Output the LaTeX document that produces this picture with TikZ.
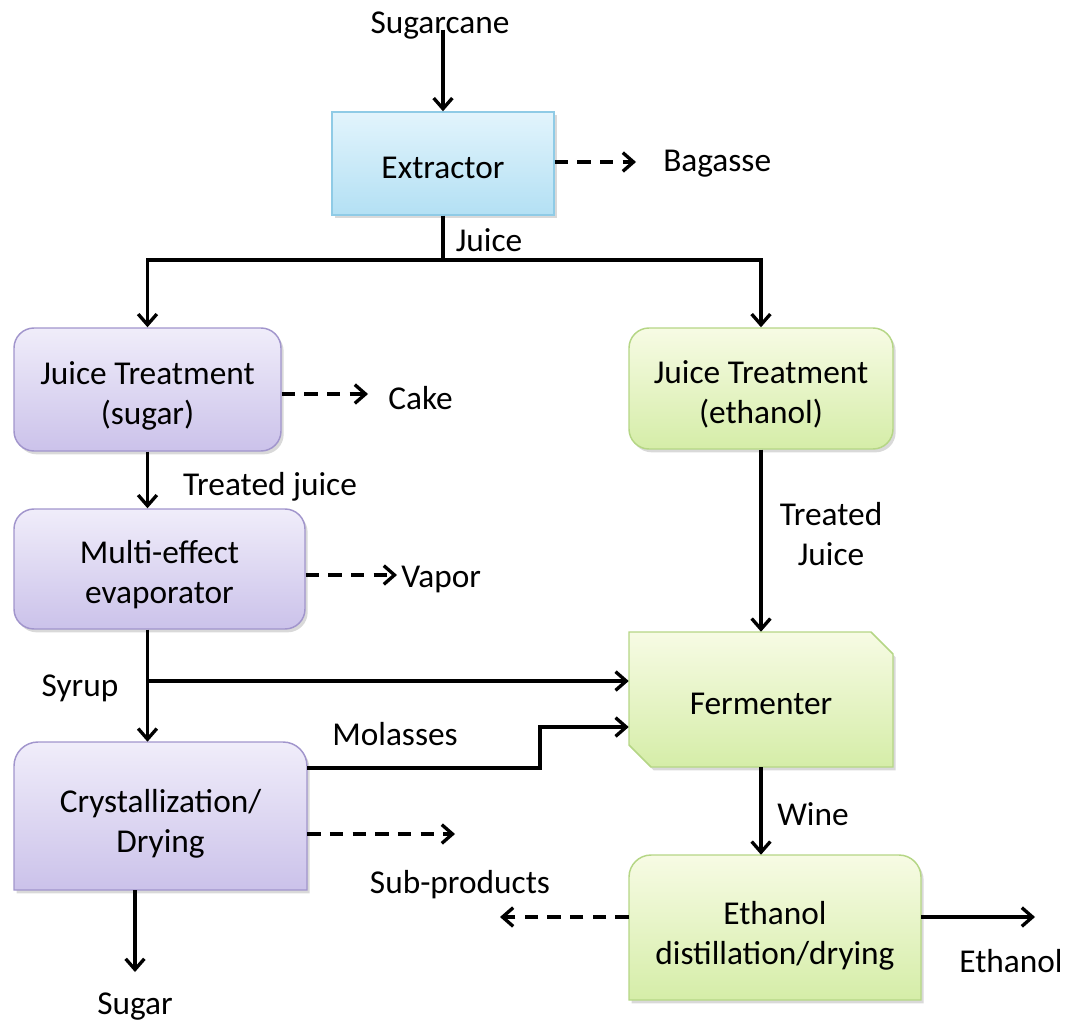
\documentclass[tikz,border=0pt]{standalone}
\usepackage{fontspec}
\setmainfont{Carlito}
\usetikzlibrary{arrows.meta,shadows,calc}
\definecolor{blueT}{HTML}{E2F4FC}
\definecolor{blueB}{HTML}{B3E0F4}
\definecolor{blueD}{HTML}{8FCBE6}
\definecolor{purpT}{HTML}{F0EDFA}
\definecolor{purpB}{HTML}{CBC2EA}
\definecolor{purpD}{HTML}{A195CC}
\definecolor{grnT}{HTML}{F7FBE4}
\definecolor{grnB}{HTML}{D5EDA8}
\definecolor{grnD}{HTML}{B5D685}
\newcommand{\bigfont}{\fontsize{25}{30}\selectfont}
\begin{document}
\begin{tikzpicture}[x=0.75pt,y=-0.75pt,
  flow/.style={line width=2.5pt,-{Straight Barb[length=8pt,width=14pt]}},
  dflow/.style={flow,dash pattern=on 10pt off 7pt},
  plain/.style={line width=2.5pt},
  shad/.style={drop shadow={opacity=0.3,shadow xshift=2pt,shadow yshift=-2.5pt}},
  btxt/.style={inner sep=0pt,align=center,font=\bigfont,yshift=-4.5pt},
  btxts/.style={btxt,yshift=1.5pt},
  box/.style={draw,line width=1.1pt,shad,inner sep=0pt},
  bluebox/.style={box,draw=blueD,top color=blueT,bottom color=blueB},
  purpbox/.style={box,rounded corners=15pt,draw=purpD,top color=purpT,bottom color=purpB},
  grnbox/.style={box,rounded corners=15pt,draw=grnD,top color=grnT,bottom color=grnB},
  purpshape/.style={draw=purpD,line width=1.1pt,shad,top color=purpT,bottom color=purpB},
  grnshape/.style={draw=grnD,line width=1.1pt,shad,top color=grnT,bottom color=grnB},
  lbl/.style={inner sep=0pt,align=center,font=\bigfont,yshift=-2pt},
  shapetext/.style={inner sep=0pt}
]
\useasboundingbox (0,0) rectangle (1066,1024);

% custom shaped boxes
\path[purpshape] (14,890) -- (14,766) .. controls (14,752.7) and (24.7,742) .. (38,742)
  -- (283,742) .. controls (296.3,742) and (307,752.7) .. (307,766) -- (307,890) -- cycle;
\path[grnshape] (629,632) -- (871,632) -- (893,654) -- (893,767) -- (651,767) -- (629,745) -- cycle;
\path[grnshape] (629,1000) -- (629,877) .. controls (629,864.9) and (638.9,855) .. (651,855)
  -- (899,855) .. controls (911.1,855) and (921,864.9) .. (921,877) -- (921,1000) -- cycle;

% nodes
\node[lbl] (cane) at (440,23) {Sugarcane};
\node[bluebox,minimum width=166.5pt,minimum height=77.25pt,
  label={[btxts]center:Extractor}] (ext) at (443,163.5) {};
\node[lbl,anchor=west] (bag) at (663,161) {Bagasse};
\node[purpbox,minimum width=200.25pt,minimum height=92.25pt,
  label={[btxt]center:{Juice Treatment\\(sugar)}}] (jts) at (147.5,389.5) {};
\node[lbl,anchor=west] (cake) at (388,395) {Cake};
\node[purpbox,minimum width=218.25pt,minimum height=90pt,
  label={[btxt]center:{Multi-effect\\evaporator}}] (mee) at (159.5,569) {};
\node[lbl,anchor=west] (vap) at (401,577) {Vapor};
\node[shapetext,minimum width=219.75pt,minimum height=111pt,
  label={[btxt,yshift=-1pt]center:{Crystallization/\\Drying}}] (cry) at (160.5,816) {};
\node[grnbox,minimum width=198pt,minimum height=90.75pt,
  label={[btxt]center:{Juice Treatment\\(ethanol)}}] (jte) at (761,388.5) {};
\node[shapetext,minimum width=198pt,minimum height=101.25pt,
  label={[btxts]center:Fermenter}] (fer) at (761,699.5) {};
\node[shapetext,minimum width=219pt,minimum height=108.75pt,
  label={[btxt,yshift=-1.5pt]center:{Ethanol\\distillation/drying}}] (eth) at (775,927.5) {};

% labels
\node[lbl] (ljuice) at (489,237) {Juice};
\node[lbl] (ltj) at (270,484) {Treated juice};
\node[lbl] (lTJ) at (831,531) {Treated\\Juice};
\node[lbl] (lsyr) at (80,686) {Syrup};
\node[lbl] (lmol) at (395,731) {Molasses};
\node[lbl] (lsub) at (460,882) {Sub-products};
\node[lbl] (lsug) at (135,1004) {Sugar};
\node[lbl] (lwine) at (813,811) {Wine};
\node[lbl] (leth) at (1011,958) {Ethanol};

% coordinates
\coordinate (jn) at (443,260);
\coordinate (bagE) at (636,162);
\coordinate (cakeE) at (368,394);
\coordinate (vapE) at (397,575);
\coordinate (syr) at (147.5,681);
\coordinate (mol) at (540,768);
\coordinate (molin) at (627,727);
\coordinate (subE) at (455,834);
\coordinate (subW) at (500,917);
\coordinate (ethE) at (1035,917);
\coordinate (sugE) at (135,972);

% connectors
\draw[flow] (cane.south) ++(3,-10) -- (ext.north);
\draw[dflow] (ext.east |- bagE) -- (bagE);
\draw[plain] (ext.south) -- (jn);
\draw[flow] (jn) -| (jts.north);
\draw[flow] (jn) -| (jte.north);
\draw[dflow] (jts.east |- cakeE) -- (cakeE);
\draw[flow] (jts.south) -- (jts.south |- mee.north);
\draw[dflow] (mee.east |- vapE) -- (vapE);
\draw[flow] (jts.south |- mee.south) -- (jts.south |- cry.north);
\draw[flow] (syr) -- (fer.west |- syr);
\draw[flow] (cry.east |- mol) -- (mol) |- (fer.west |- molin);
\draw[dflow] (cry.east |- subE) -- (subE);
\draw[flow] (cry.south -| sugE) -- (sugE);
\draw[flow] (jte.south) -- (fer.north);
\draw[flow] (fer.south) -- (eth.north -| fer.south);
\draw[dflow] (eth.west |- subW) -- (subW);
\draw[flow] (eth.east |- ethE) -- (ethE);
\end{tikzpicture}
\end{document}
